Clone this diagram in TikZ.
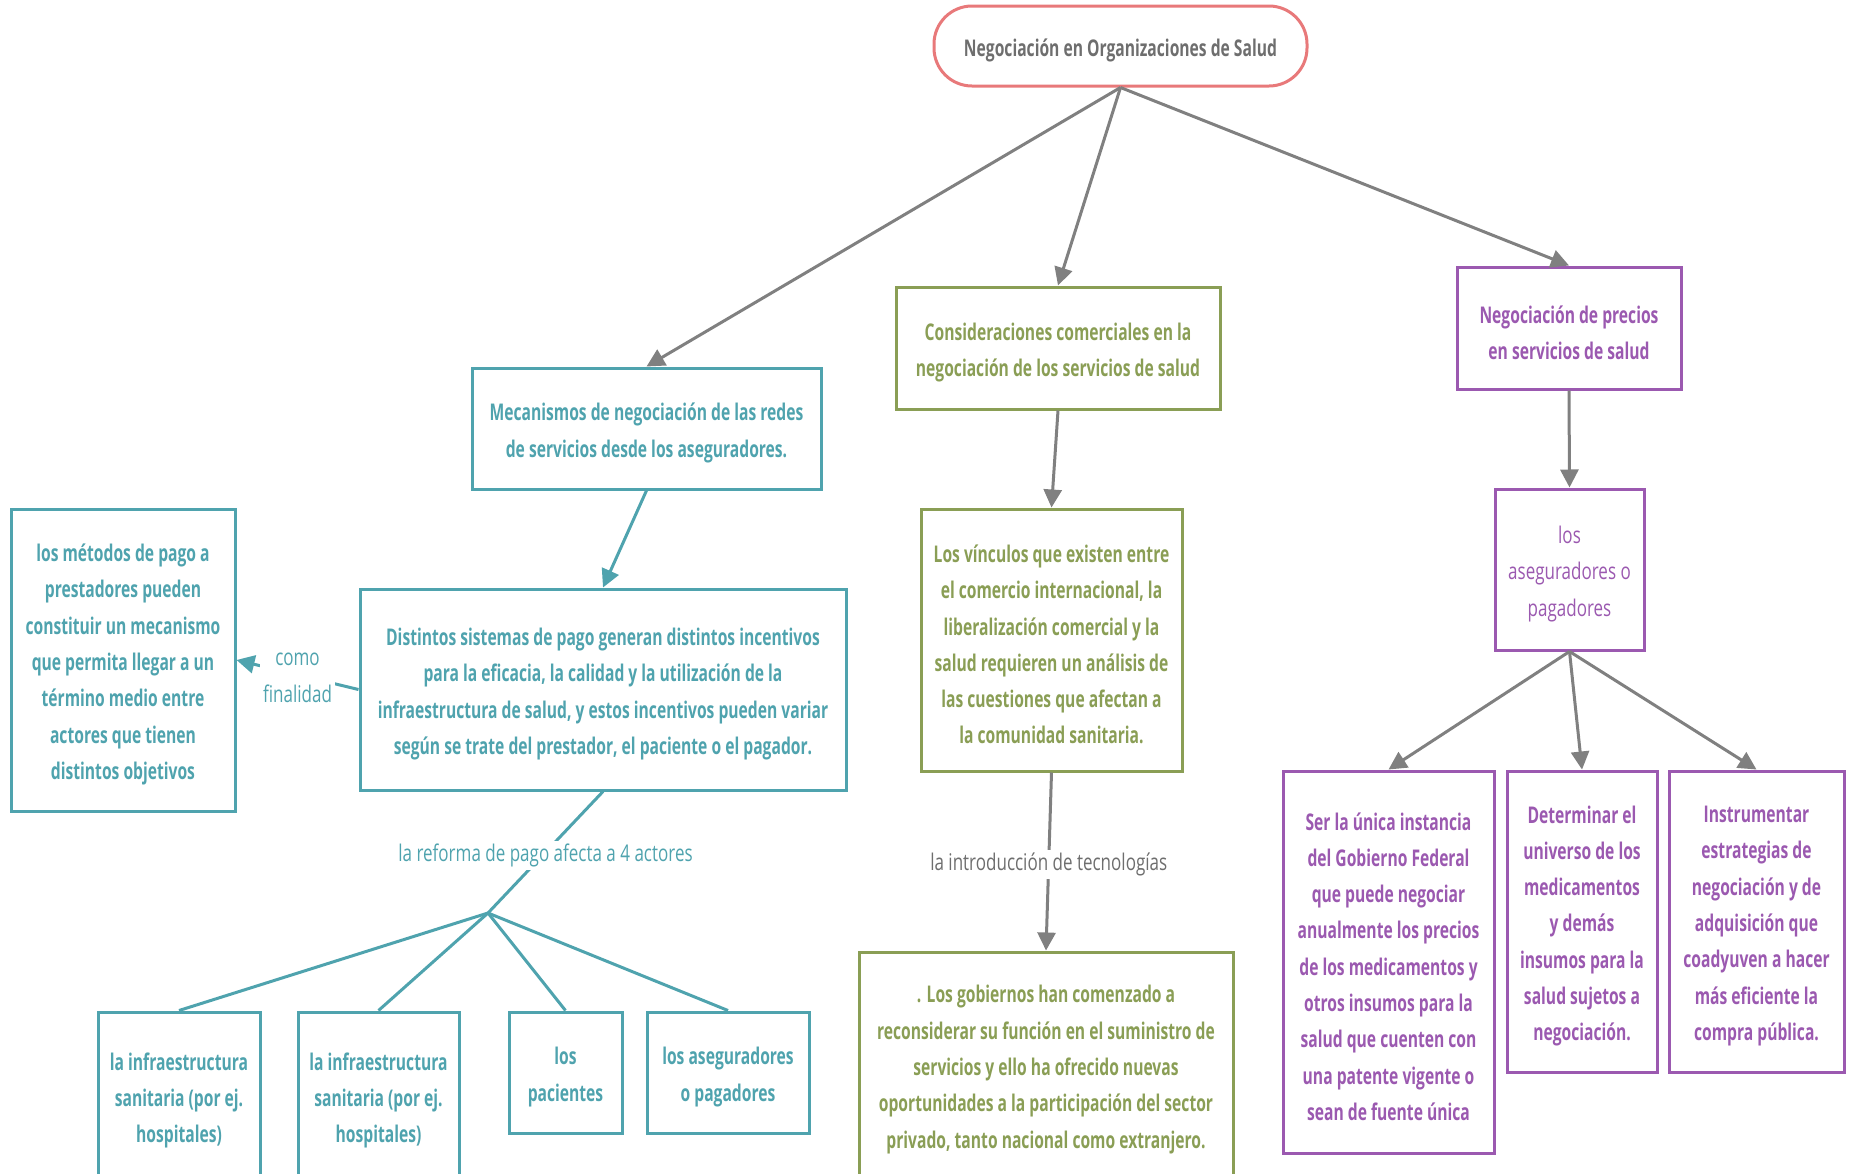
\documentclass[tikz,border=0pt]{standalone}
\usepackage{fontspec}
\setmainfont{Open Sans}[FakeStretch=0.68]
\newfontfamily\regf{Open Sans}[FakeStretch=0.74]
\usetikzlibrary{arrows.meta}
\definecolor{tealc}{HTML}{4FA3AE}
\definecolor{olivec}{HTML}{8A9E55}
\definecolor{purplec}{HTML}{9B59B0}
\definecolor{pinkc}{HTML}{E8797A}
\definecolor{greyt}{HTML}{6E6E6E}
\definecolor{arrg}{HTML}{808080}
\tikzset{
  frame/.style={rectangle, draw, line width=3pt, inner sep=0pt, fill=white},
  tealbox/.style={frame, draw=tealc},
  olivebox/.style={frame, draw=olivec},
  purplebox/.style={frame, draw=purplec},
  txt/.style={align=center, inner sep=0pt, font=\fontsize{23}{36.3}\selectfont\bfseries},
  tealtxt/.style={txt, text=tealc},
  olivetxt/.style={txt, text=olivec},
  purpletxt/.style={txt, text=purplec},
  regtxt/.style={align=center, inner sep=0pt, font=\fontsize{23}{36.3}\selectfont\regf},
  lbl/.style={fill=white, inner sep=3pt, align=center, font=\fontsize{23}{36.3}\selectfont\regf},
  garrow/.style={draw=arrg, line width=3pt, -{Triangle[length=18pt,width=18pt]}},
  tarrow/.style={draw=tealc, line width=3pt, -{Triangle[length=18pt,width=18pt]}},
  tline/.style={draw=tealc, line width=3pt},
}
% #1 frame style, #2 name, #3 position, #4 size options, #5 text style, #6 text
\newcommand\boxnode[6]{%
  \node[#1, #4] (#2) at #3 {};
  \node[#5] (#2t) at ([yshift=-4.5pt]#2.center) {#6};}
\begin{document}
\begin{tikzpicture}[x=1pt,y=-1pt]
\useasboundingbox (0,0) rectangle (1852,1173);
% nodes
\boxnode{frame, draw=pinkc, rounded corners=38pt}{root}{(1120.5,46)}{minimum width=373pt, minimum height=80pt}{txt, text=greyt}{Negociación en Organizaciones de Salud}
\boxnode{tealbox}{mec}{(646.5,428.5)}{minimum width=349pt, minimum height=121pt}{tealtxt}{Mecanismos de negociación de las redes\\de servicios desde los aseguradores.}
\boxnode{olivebox}{cons}{(1058,348)}{minimum width=324pt, minimum height=122pt}{olivetxt}{Consideraciones comerciales en la\\negociación de los servicios de salud}
\boxnode{purplebox}{prec}{(1569,328)}{minimum width=224pt, minimum height=122pt}{purpletxt}{Negociación de precios\\en servicios de salud}
\boxnode{tealbox}{met}{(123,660)}{minimum width=224pt, minimum height=302pt}{tealtxt}{los métodos de pago a\\prestadores pueden\\constituir un mecanismo\\que permita llegar a un\\término medio entre\\actores que tienen\\distintos objetivos}
\boxnode{tealbox}{dist}{(603,689.5)}{minimum width=486pt, minimum height=201pt}{tealtxt}{Distintos sistemas de pago generan distintos incentivos\\para la eficacia, la calidad y la utilización de la\\infraestructura de salud, y estos incentivos pueden variar\\según se trate del prestador, el paciente o el pagador.}
\boxnode{olivebox}{vinc}{(1051.5,640)}{minimum width=261pt, minimum height=262pt}{olivetxt}{Los vínculos que existen entre\\el comercio internacional, la\\liberalización comercial y la\\salud requieren un análisis de\\las cuestiones que afectan a\\la comunidad sanitaria.}
\boxnode{purplebox}{aseg}{(1569.5,569.5)}{minimum width=149pt, minimum height=161pt}{regtxt, text=purplec}{los\\aseguradores o\\pagadores}
\boxnode{tealbox}{b1}{(179,1096)}{minimum width=162pt, minimum height=168pt}{tealtxt}{la infraestructura\\sanitaria (por ej.\\hospitales)}
\boxnode{tealbox}{b2}{(378.5,1096)}{minimum width=161pt, minimum height=168pt}{tealtxt}{la infraestructura\\sanitaria (por ej.\\hospitales)}
\boxnode{tealbox}{b3}{(565.5,1072.5)}{minimum width=113pt, minimum height=121pt}{tealtxt}{los\\pacientes}
\boxnode{tealbox}{b4}{(728,1072.5)}{minimum width=162pt, minimum height=121pt}{tealtxt}{los aseguradores\\o pagadores}
\boxnode{olivebox}{gob}{(1046,1065)}{minimum width=374pt, minimum height=226pt}{olivetxt}{. Los gobiernos han comenzado a\\reconsiderar su función en el suministro de\\servicios y ello ha ofrecido nuevas\\oportunidades a la participación del sector\\privado, tanto nacional como extranjero.}
\boxnode{purplebox}{ser}{(1388.5,962)}{minimum width=211pt, minimum height=382pt}{purpletxt}{Ser la única instancia\\del Gobierno Federal\\que puede negociar\\anualmente los precios\\de los medicamentos y\\otros insumos para la\\salud que cuenten con\\una patente vigente o\\sean de fuente única}
\boxnode{purplebox}{det}{(1582,921.5)}{minimum width=150pt, minimum height=301pt}{purpletxt}{Determinar el\\universo de los\\medicamentos\\y demás\\insumos para la\\salud sujetos a\\negociación.}
\boxnode{purplebox}{instr}{(1756.5,921.5)}{minimum width=175pt, minimum height=301pt}{purpletxt}{Instrumentar\\estrategias de\\negociación y de\\adquisición que\\coadyuven a hacer\\más eficiente la\\compra pública.}
\coordinate (fork) at (488,913);
% connectors
\draw[garrow] (root.south) -- (mec.north);
\draw[garrow] (root.south) -- (cons.north);
\draw[garrow] (root.south) -- (prec.north);
\draw[tarrow] (mec.south) -- (dist.north);
\draw[tarrow] (dist.west) -- node[lbl, text=tealc, yshift=-3pt] (lcomo) {como\\finalidad} (met.east);
\draw[tline] (dist.south) -- node[lbl, text=tealc, yshift=-3pt] (lref) {la reforma de pago afecta a 4 actores} (fork);
\draw[tline] (fork) -- (b1.north);
\draw[tline] (fork) -- (b2.north);
\draw[tline] (fork) -- (b3.north);
\draw[tline] (fork) -- (b4.north);
\draw[garrow] (cons.south) -- (vinc.north);
\draw[garrow] (vinc.south) -- node[lbl, text=greyt, yshift=-3pt] (ltec) {la introducción de tecnologías} (gob.north);
\draw[garrow] (prec.south) -- (aseg.north);
\draw[garrow] (aseg.south) -- (ser.north);
\draw[garrow] (aseg.south) -- (det.north);
\draw[garrow] (aseg.south) -- (instr.north);
\end{tikzpicture}
\end{document}
